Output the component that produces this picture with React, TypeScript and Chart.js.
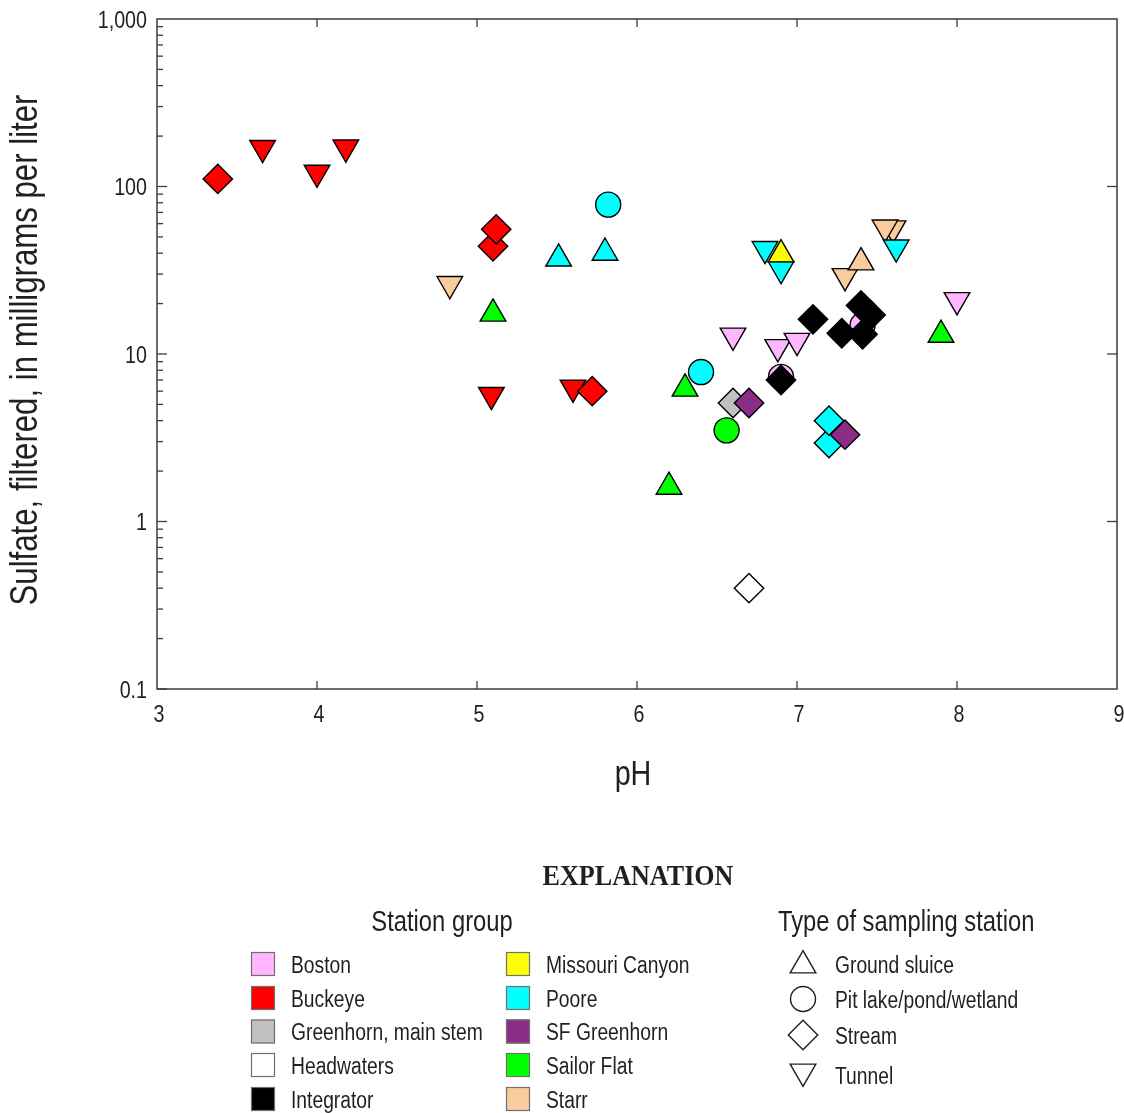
import React, { useEffect, useRef } from 'react';
import { Chart, registerables } from 'chart.js';

Chart.register(...registerables);

const W = 1124;
const H = 1113;

// Station groups and their fill colours
const STATION_GROUPS = [
  'Boston', 'Buckeye', 'Greenhorn, main stem', 'Headwaters', 'Integrator',
  'Missouri Canyon', 'Poore', 'SF Greenhorn', 'Sailor Flat', 'Starr',
];
const GROUP_COLORS = [
  '#FFB8FF', '#FF0000', '#C0C0C0', '#FFFFFF', '#000000',
  '#FFFF00', '#00FFFF', '#8B2D87', '#00FF00', '#FACB9C',
];

// Types of sampling station
const SLUICE = 'Ground sluice';
const PIT = 'Pit lake/pond/wetland';
const STREAM = 'Stream';
const TUNNEL = 'Tunnel';
const STATION_TYPES = [SLUICE, PIT, STREAM, TUNNEL];

// Axis ticks
const X_TICKS = [3, 4, 5, 6, 7, 8, 9];
const X_TICK_LABELS = ['3', '4', '5', '6', '7', '8', '9'];
const Y_TICKS = [0.1, 1, 10, 100, 1000];
const Y_TICK_LABELS = ['0.1', '1', '10', '100', '1,000'];

// pH and filtered sulfate (mg/L) by station group
const bostonPH = [6.6, 6.88, 7.0, 8.0, 6.9, 7.41];
const bostonSulfate = [12.9, 11.0, 12.0, 21.0, 7.3, 14.9];
const bostonType = [TUNNEL, TUNNEL, TUNNEL, TUNNEL, PIT, PIT];

const buckeyePH = [3.66, 4.0, 4.18, 5.09, 5.6, 3.38, 5.1, 5.12, 5.72];
const buckeyeSulfate = [170, 121, 171, 5.7, 6.3, 111, 44, 55.5, 6.0];
const buckeyeType = [TUNNEL, TUNNEL, TUNNEL, TUNNEL, TUNNEL, STREAM, STREAM, STREAM, STREAM];

const greenhornPH = [6.6];
const greenhornSulfate = [5.1];
const greenhornType = [STREAM];

const headwatersPH = [6.7];
const headwatersSulfate = [0.4];
const headwatersType = [STREAM];

const integratorPH = [6.9, 7.1, 7.4, 7.46, 7.28, 7.41];
const integratorSulfate = [7.0, 16.1, 19.5, 17.1, 13.3, 13.1];
const integratorType = [STREAM, STREAM, STREAM, STREAM, STREAM, STREAM];

const missouriPH = [6.9];
const missouriSulfate = [39.3];
const missouriType = [SLUICE];

const poorePH = [5.51, 5.8, 5.82, 6.4, 6.8, 6.9, 7.62, 7.2, 7.2];
const pooreSulfate = [37.1, 40.2, 77.9, 7.8, 42.4, 32.2, 43.3, 2.94, 4.0];
const pooreType = [SLUICE, SLUICE, PIT, PIT, TUNNEL, TUNNEL, TUNNEL, STREAM, STREAM];

const sfGreenhornPH = [6.7, 7.3];
const sfGreenhornSulfate = [5.1, 3.3];
const sfGreenhornType = [STREAM, STREAM];

const sailorFlatPH = [5.1, 6.2, 6.3, 7.9, 6.56];
const sailorFlatSulfate = [17.4, 1.61, 6.2, 13.0, 3.5];
const sailorFlatType = [SLUICE, SLUICE, SLUICE, SLUICE, PIT];

const starrPH = [4.83, 7.3, 7.6, 7.55, 7.4];
const starrSulfate = [26.2, 29.2, 56.3, 57.0, 35.2];
const starrType = [TUNNEL, TUNNEL, TUNNEL, TUNNEL, SLUICE];

// Stacking: smaller number is painted on top
const GROUP_LAYER = [9, 1, 7, 8, 2, 4, 5, 3, 6, 10];

const groupTable = [
  { ph: bostonPH, so4: bostonSulfate, type: bostonType },
  { ph: buckeyePH, so4: buckeyeSulfate, type: buckeyeType },
  { ph: greenhornPH, so4: greenhornSulfate, type: greenhornType },
  { ph: headwatersPH, so4: headwatersSulfate, type: headwatersType },
  { ph: integratorPH, so4: integratorSulfate, type: integratorType },
  { ph: missouriPH, so4: missouriSulfate, type: missouriType },
  { ph: poorePH, so4: pooreSulfate, type: pooreType },
  { ph: sfGreenhornPH, so4: sfGreenhornSulfate, type: sfGreenhornType },
  { ph: sailorFlatPH, so4: sailorFlatSulfate, type: sailorFlatType },
  { ph: starrPH, so4: starrSulfate, type: starrType },
];

const MARKER: Record<string, { style: string; rotation: number; radius: number }> = {
  [SLUICE]: { style: 'triangle', rotation: 0, radius: 14.8 },
  [PIT]: { style: 'circle', rotation: 0, radius: 12.5 },
  [STREAM]: { style: 'rectRot', rotation: 0, radius: 14.7 },
  [TUNNEL]: { style: 'triangle', rotation: 180, radius: 14.8 },
};

const INK = '#231F20';
const AXIS = '#3C3C3C';

function fontAvailable(family: string): boolean {
  const c = document.createElement('canvas').getContext('2d');
  if (!c) return false;
  const probe = 'mmmmmwwwwwlllliiiIIO0123456789';
  c.font = '40px monospace';
  const base = c.measureText(probe).width;
  c.font = `40px "${family}", monospace`;
  return Math.abs(c.measureText(probe).width - base) > 0.5;
}

const HAS_NARROW = typeof document !== 'undefined' && fontAvailable('Liberation Sans Narrow');
const SANS = HAS_NARROW ? '"Liberation Sans Narrow", "Liberation Sans", sans-serif' : '"Liberation Sans", Arial, sans-serif';
const SQUEEZE = HAS_NARROW ? 1 : 0.82;

type TextOpts = {
  size: number;
  family?: string;
  weight?: string;
  align?: CanvasTextAlign;
  squeeze?: number;
  rotate?: number;
  baseline?: CanvasTextBaseline;
};

function drawText(ctx: CanvasRenderingContext2D, text: string, x: number, y: number, o: TextOpts) {
  ctx.save();
  ctx.translate(x, y);
  if (o.rotate) ctx.rotate(o.rotate);
  ctx.scale(o.squeeze ?? SQUEEZE, 1);
  ctx.font = `${o.weight ?? 'normal'} ${o.size}px ${o.family ?? SANS}`;
  ctx.fillStyle = INK;
  ctx.textAlign = o.align ?? 'left';
  ctx.textBaseline = o.baseline ?? 'alphabetic';
  ctx.fillText(text, 0, 0);
  ctx.restore();
}

function symbolPath(ctx: CanvasRenderingContext2D, type: string, x: number, y: number) {
  const m = MARKER[type];
  const r = m.radius;
  ctx.beginPath();
  if (m.style === 'circle') {
    ctx.arc(x, y, r, 0, Math.PI * 2);
  } else if (m.style === 'rectRot') {
    ctx.moveTo(x - r, y);
    ctx.lineTo(x, y - r);
    ctx.lineTo(x + r, y);
    ctx.lineTo(x, y + r);
    ctx.closePath();
  } else {
    const s = m.rotation === 180 ? -1 : 1;
    ctx.moveTo(x, y - s * r);
    ctx.lineTo(x + (r * Math.sqrt(3)) / 2, y + (s * r) / 2);
    ctx.lineTo(x - (r * Math.sqrt(3)) / 2, y + (s * r) / 2);
    ctx.closePath();
  }
}

// Plot frame with inward tick marks and the tick labels of both scales
const framePlugin = {
  id: 'frame',
  beforeDatasetsDraw(chart: any) {
    const { ctx, chartArea, scales } = chart;
    const { left, right, top, bottom } = chartArea;
    const x = scales.x;
    const y = scales.y;
    ctx.save();
    ctx.strokeStyle = AXIS;
    ctx.lineWidth = 1.5;
    ctx.strokeRect(left, top, right - left, bottom - top);
    ctx.lineWidth = 1.3;
    const seg = (x1: number, y1: number, x2: number, y2: number) => {
      ctx.beginPath();
      ctx.moveTo(x1, y1);
      ctx.lineTo(x2, y2);
      ctx.stroke();
    };
    X_TICKS.slice(1, -1).forEach((v) => {
      const px = x.getPixelForValue(v);
      seg(px, bottom, px, bottom - 8);
      seg(px, top, px, top + 8);
    });
    Y_TICKS.slice(0, -1).forEach((d) => {
      for (let k = 1; k <= 9; k++) {
        const py = y.getPixelForValue(d * k);
        const len = k === 1 ? 10 : 6;
        seg(left, py, left + len, py);
        if (k === 1 && d > 0.1) seg(right, py, right - 10, py);
      }
    });
    ctx.restore();

    X_TICKS.forEach((v, i) => {
      drawText(ctx, X_TICK_LABELS[i], x.getPixelForValue(v) + 2, bottom + 33, { size: 24, align: 'center' });
    });
    Y_TICKS.forEach((v, i) => {
      drawText(ctx, Y_TICK_LABELS[i], left - 10, y.getPixelForValue(v) + 8.5, { size: 24, align: 'right' });
    });
  },
};

// Axis titles and the explanation block
const annotationPlugin = {
  id: 'explanation',
  afterDraw(chart: any) {
    const ctx: CanvasRenderingContext2D = chart.ctx;
    const { left, right } = chart.chartArea;

    drawText(ctx, 'Sulfate, filtered, in milligrams per liter', 27, 350, {
      size: 38, align: 'center', baseline: 'middle', rotate: -Math.PI / 2,
    });
    drawText(ctx, 'pH', (left + right) / 2 - 4, 785, { size: 35, align: 'center' });

    drawText(ctx, 'EXPLANATION', 638, 885, {
      size: 30, weight: 'bold', family: '"Liberation Serif", "DejaVu Serif", serif', align: 'center', squeeze: 0.87,
    });

    drawText(ctx, 'Station group', 442, 931, { size: 29, align: 'center' });
    drawText(ctx, 'Type of sampling station', 778, 931, { size: 29 });

    const rowY = [964, 998, 1031.5, 1065, 1099];
    const colX = [251, 506];
    STATION_GROUPS.forEach((name, i) => {
      const col = Math.floor(i / 5);
      const row = i % 5;
      const sx = colX[col];
      const cy = rowY[row];
      ctx.save();
      ctx.fillStyle = GROUP_COLORS[i];
      ctx.fillRect(sx, cy - 12, 24, 24);
      ctx.strokeStyle = '#707070';
      ctx.lineWidth = 1.2;
      ctx.strokeRect(sx + 0.5, cy - 11.5, 23, 23);
      ctx.restore();
      drawText(ctx, name, sx + 40, cy + 8.5, { size: 23.5 });
    });

    const typeSymY = [965.5, 999, 1035, 1071.5];
    const typeTextY = [964, 999, 1035, 1075];
    STATION_TYPES.forEach((t, i) => {
      ctx.save();
      symbolPath(ctx, t, 803, typeSymY[i]);
      ctx.fillStyle = '#FFFFFF';
      ctx.fill();
      ctx.strokeStyle = INK;
      ctx.lineWidth = 1.4;
      ctx.stroke();
      ctx.restore();
      drawText(ctx, t, 835, typeTextY[i] + 8.5, { size: 23.5 });
    });
  },
};

const zeroPadding = (s: any) => {
  s.paddingLeft = 0;
  s.paddingRight = 0;
  s.paddingTop = 0;
  s.paddingBottom = 0;
};

export default function App() {
  const ref = useRef<HTMLCanvasElement>(null);

  useEffect(() => {
    const canvas = ref.current;
    if (!canvas) return;

    const datasets = groupTable.map((g, i) => ({
      label: STATION_GROUPS[i],
      data: g.ph.map((ph, k) => ({ x: ph, y: g.so4[k] })),
      order: GROUP_LAYER[i],
      showLine: false,
      clip: false,
      pointStyle: g.type.map((t) => MARKER[t].style),
      pointRotation: g.type.map((t) => MARKER[t].rotation),
      pointRadius: g.type.map((t) => MARKER[t].radius),
      pointHoverRadius: g.type.map((t) => MARKER[t].radius),
      pointBackgroundColor: GROUP_COLORS[i],
      pointBorderColor: '#000000',
      pointBorderWidth: 1.4,
      pointHoverBorderWidth: 1.4,
      backgroundColor: GROUP_COLORS[i],
      borderColor: '#000000',
    }));

    const chart = new Chart(canvas, {
      type: 'scatter',
      data: { datasets },
      plugins: [framePlugin, annotationPlugin],
      options: {
        responsive: false,
        animation: false,
        events: [],
        layout: { autoPadding: false, padding: { left: 0, right: 7, top: 19, bottom: 384 } },
        plugins: { legend: { display: false }, tooltip: { enabled: false } },
        scales: {
          x: {
            type: 'linear',
            min: 3,
            max: 9,
            afterBuildTicks: (s: any) => { s.ticks = X_TICKS.map((v) => ({ value: v })); },
            afterFit: (s: any) => { s.height = 40; zeroPadding(s); },
            ticks: { display: false },
            grid: { display: false, drawTicks: false },
            border: { display: false },
          },
          y: {
            type: 'logarithmic',
            min: 0.1,
            max: 1000,
            afterBuildTicks: (s: any) => { s.ticks = Y_TICKS.map((v) => ({ value: v })); },
            afterFit: (s: any) => { s.width = 157; zeroPadding(s); },
            ticks: { display: false },
            grid: { display: false, drawTicks: false },
            border: { display: false },
          },
        },
      } as any,
    });

    return () => chart.destroy();
  }, []);

  return (
    <div style={{ position: 'absolute', left: 0, top: 0, width: W, height: H, background: '#FFFFFF' }}>
      <canvas ref={ref} width={W} height={H} style={{ display: 'block', width: W, height: H }} />
    </div>
  );
}
